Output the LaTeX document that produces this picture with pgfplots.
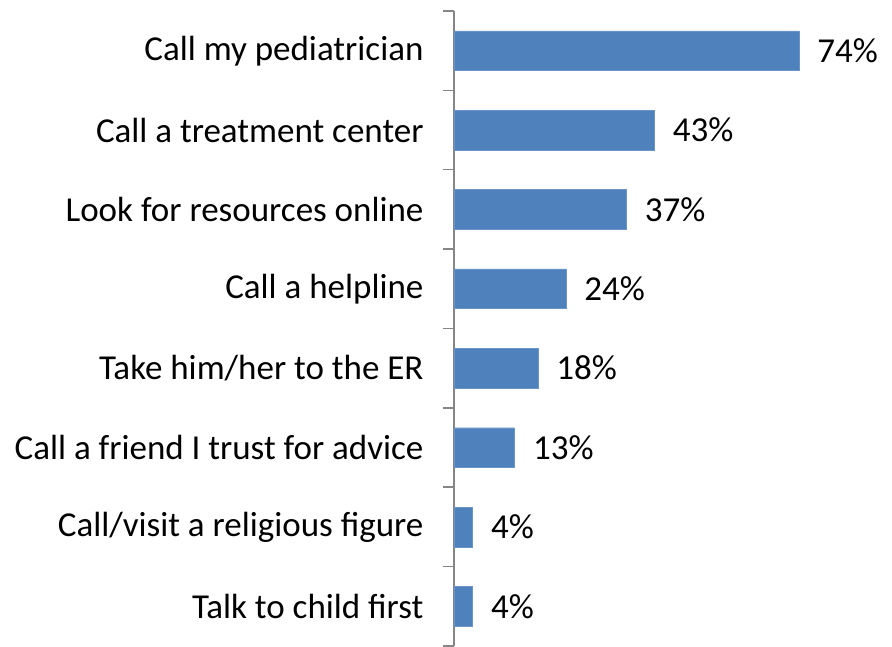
\documentclass[border=0pt]{standalone}
\usepackage{pgfplots}
\pgfplotsset{compat=1.18}
\usepackage{fontspec}
\setmainfont{Carlito}
\definecolor{barblue}{HTML}{4F81BD}
\definecolor{axgray}{HTML}{868686}
\begin{document}
\begin{tikzpicture}
\begin{axis}[
  at={(0,0)}, anchor=south west,
  scale only axis,
  width=438bp, height=635bp,
  xbar, bar width=0.5,
  xmin=0, xmax=94,
  ymin=-0.5, ymax=7.5,
  axis x line=none,
  axis y line*=left,
  y axis line style={draw=axgray, line width=1.5bp},
  ytick={0,...,7},
  yticklabels={Talk to child first, Call/visit a religious figure, Call a friend I trust for advice, Take him/her to the ER, Call a helpline, Look for resources online, Call a treatment center, Call my pediatrician},
  major tick length=0pt,
  minor ytick={-0.5,0.5,...,7.5},
  minor tick length=11bp,
  tick align=outside,
  minor tick style={draw=axgray, line width=1.5bp},
  yticklabel style={font=\fontsize{35bp}{40bp}\selectfont, xshift=-27bp},
  /pgf/number format/assume math mode=true,
  nodes near coords={\pgfmathprintnumber{\pgfplotspointmeta}\%},
  point meta=x,
  nodes near coords style={font=\fontsize{35bp}{40bp}\selectfont, anchor=west, xshift=15bp, text=black},
  clip=false,
]
\addplot[fill=barblue, draw=barblue!85!white] coordinates {
  (4,0) (4,1) (13,2) (18,3) (24,4) (37,5) (43,6) (74,7)
};
\end{axis}
\path[use as bounding box] (-454bp,2bp) rectangle (438bp,646bp);
\end{tikzpicture}
\end{document}
